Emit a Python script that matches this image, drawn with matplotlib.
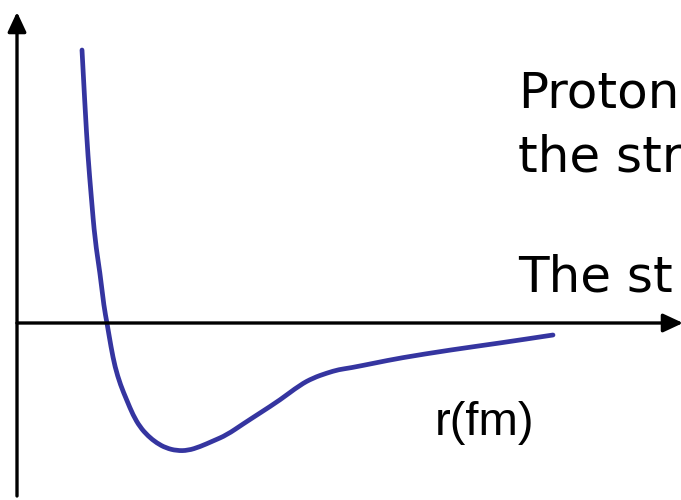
import matplotlib.pyplot as plt
from matplotlib.path import Path
from matplotlib.patches import PathPatch

# potential curve (origin at the axis crossing)
r = [65, 68, 71, 74.3, 78, 83, 87, 90, 94, 98, 103.5, 109.7, 116, 123, 131, 139.7, 149,
     159.7, 171, 183, 196, 209.7, 226, 243, 263, 283, 296, 310, 322, 333, 358, 383, 433, 483, 536]
V = [273, 216, 166, 126, 83, 50, 16, 0, -24, -44, -62, -77, -92, -104, -113, -120, -125,
     -127.7, -127.5, -123.7, -118, -112, -101, -90, -77, -62, -55, -50, -46.5, -45, -40, -35, -27, -20, -12]

text_lines = ["Proton", "the str", "The st"]
xlabel = "r(fm)"

fig = plt.figure(figsize=(6.81, 5), dpi=100)
ax = fig.add_axes([0, 0, 1, 1])
ax.set_xlim(-17, 664)
ax.set_ylim(-177, 323)
ax.axis("off")

# axes with arrows
arrow = dict(arrowstyle="-|>,head_length=0.6,head_width=0.28", mutation_scale=20,
             color="black", lw=2.4, shrinkA=0, shrinkB=0)
ax.annotate("", xy=(0, 311), xytext=(0, -173), arrowprops=arrow, annotation_clip=False)
ax.annotate("", xy=(666, 0), xytext=(0, 0), arrowprops=arrow, annotation_clip=False)

# smooth the read-off points: quadratic bezier through the midpoints
pts = list(zip(r, V))
verts = [pts[0]]
codes = [Path.MOVETO]
for i in range(1, len(pts) - 1):
    mid = ((pts[i][0] + pts[i + 1][0]) / 2, (pts[i][1] + pts[i + 1][1]) / 2)
    verts += [pts[i], mid]
    codes += [Path.CURVE3, Path.CURVE3]
verts.append(pts[-1])
codes.append(Path.LINETO)
curve = PathPatch(Path(verts, codes), facecolor="none", edgecolor="#3535a0",
                  lw=3.4, capstyle="round", joinstyle="round")
ax.add_patch(curve)

ax.text(501, 215, text_lines[0], fontsize=36, family="DejaVu Sans", va="baseline")
ax.text(501, 151, text_lines[1], fontsize=36, family="DejaVu Sans", va="baseline")
ax.text(501, 31, text_lines[2], fontsize=36, family="DejaVu Sans", va="baseline")
ax.text(418, -112, xlabel, fontsize=34, family="Liberation Sans", va="baseline")

fig.savefig("out.png", dpi=100)
